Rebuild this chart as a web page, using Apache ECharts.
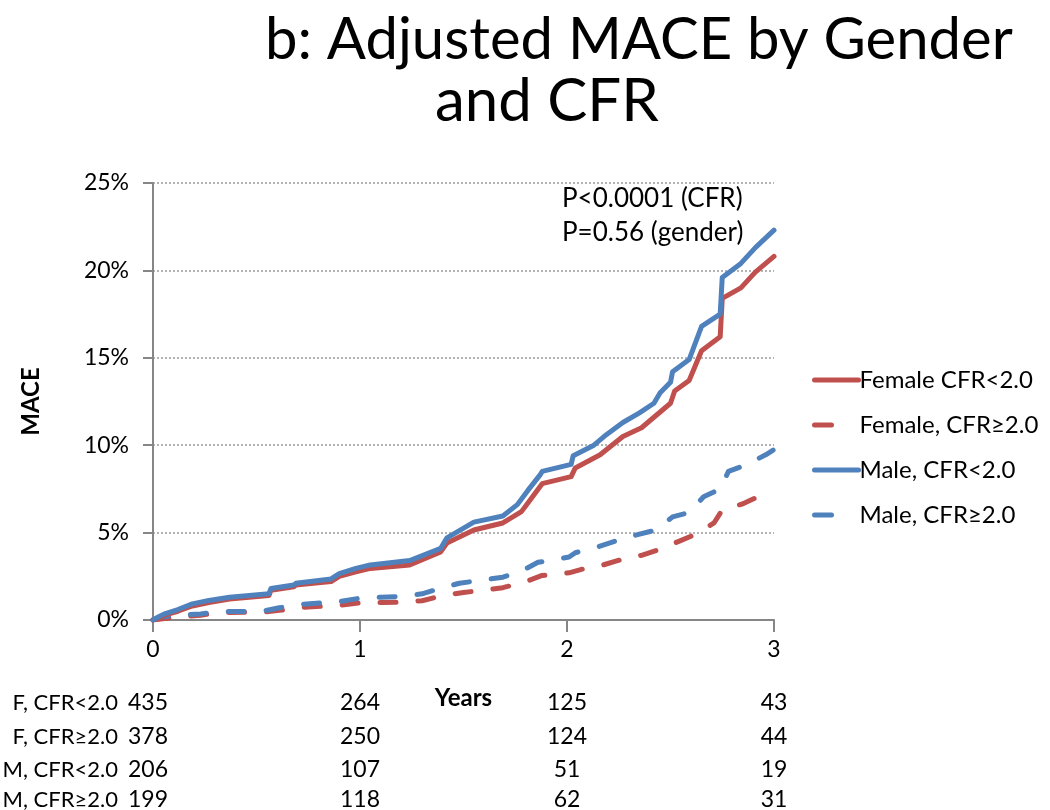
<!DOCTYPE html>
<html>
<head>
<meta charset="utf-8">
<script src="https://cdn.jsdelivr.net/npm/echarts@6/dist/echarts.min.js"></script>
<style>
  html, body { margin: 0; padding: 0; background: #fff; }
  #main { width: 1050px; height: 810px; }
</style>
</head>
<body>
<div id="main"></div>
<script>
// curves: [years, MACE %]
var femaleLow = [[0,0],[0.03,0.1],[0.06,0.3],[0.12,0.5],[0.19,0.8],[0.27,1.0],[0.37,1.2],[0.56,1.4],[0.57,1.7],[0.68,1.9],[0.69,2.0],[0.86,2.2],[0.9,2.5],[0.98,2.75],[1.05,2.95],[1.24,3.15],[1.39,3.9],[1.42,4.4],[1.55,5.15],[1.69,5.55],[1.78,6.2],[1.83,7.0],[1.88,7.8],[2.02,8.2],[2.04,8.7],[2.16,9.45],[2.27,10.5],[2.36,11.0],[2.44,11.8],[2.5,12.4],[2.52,13.1],[2.59,13.7],[2.65,15.4],[2.74,16.2],[2.75,18.4],[2.84,19.0],[2.91,19.9],[3.0,20.8]];
var femaleHigh = [[0,0],[0.1,0.15],[0.23,0.27],[0.32,0.43],[0.53,0.45],[0.61,0.55],[0.72,0.72],[0.91,0.85],[1.01,1.0],[1.11,1.0],[1.21,1.02],[1.3,1.1],[1.4,1.4],[1.5,1.57],[1.69,1.85],[1.79,2.15],[1.88,2.55],[2.01,2.7],[2.07,2.9],[2.16,3.1],[2.26,3.45],[2.36,3.7],[2.45,4.05],[2.54,4.5],[2.63,4.95],[2.71,5.55],[2.75,6.3],[2.85,6.65],[2.94,7.15],[3.0,7.4]];
var maleLow = [[0,0],[0.03,0.2],[0.06,0.37],[0.12,0.6],[0.19,0.92],[0.27,1.12],[0.37,1.3],[0.56,1.5],[0.57,1.8],[0.68,2.0],[0.69,2.1],[0.86,2.35],[0.9,2.65],[0.98,2.95],[1.05,3.15],[1.24,3.4],[1.39,4.1],[1.42,4.7],[1.55,5.6],[1.69,5.95],[1.76,6.6],[1.81,7.4],[1.87,8.3],[1.88,8.5],[2.02,8.9],[2.03,9.4],[2.13,10.0],[2.19,10.6],[2.27,11.3],[2.35,11.85],[2.42,12.4],[2.45,13.0],[2.5,13.6],[2.51,14.2],[2.59,14.9],[2.65,16.8],[2.74,17.5],[2.75,19.6],[2.84,20.4],[2.91,21.3],[3.0,22.3]];
var maleHigh = [[0,0],[0.03,0.15],[0.1,0.25],[0.23,0.35],[0.32,0.48],[0.53,0.5],[0.61,0.7],[0.72,0.9],[0.9,1.05],[1.0,1.25],[1.1,1.3],[1.2,1.35],[1.3,1.5],[1.4,1.85],[1.48,2.1],[1.69,2.45],[1.78,2.8],[1.86,3.3],[2.01,3.6],[2.04,3.85],[2.14,4.15],[2.23,4.5],[2.33,4.85],[2.43,5.15],[2.51,5.9],[2.59,6.15],[2.66,7.05],[2.74,7.5],[2.78,8.5],[2.87,8.9],[2.96,9.45],[3.0,9.75]];

var seriesNames = ['Female CFR<2.0', 'Female, CFR≥2.0', 'Male, CFR<2.0', 'Male, CFR≥2.0'];

// numbers at risk
var riskLabels = ['F, CFR<2.0', 'F, CFR≥2.0', 'M, CFR<2.0', 'M, CFR≥2.0'];
var riskYears = [0, 1, 2, 3];
var riskCounts = [
  [435, 264, 125, 43],
  [378, 250, 124, 44],
  [206, 107, 51, 19],
  [199, 118, 62, 31]
];

var pText = ['P<0.0001 (CFR)', 'P=0.56 (gender)'];

var RED = '#C0504D', BLUE = '#4F81BD';
var FONT = 'Lato';

var chart = echarts.init(document.getElementById('main'));

function lineSeries(name, data, color, dashed) {
  return {
    name: name,
    type: 'line',
    data: data,
    symbol: 'none',
    smooth: false,
    z: dashed ? 2 : 3,
    lineStyle: {
      color: color,
      width: 5,
      type: dashed ? [16, 22] : 'solid',
      cap: 'round',
      join: 'round'
    },
    itemStyle: { color: color }
  };
}

function legendItem(name, dashed) {
  return {
    name: name,
    lineStyle: { width: 5, cap: 'round', type: dashed ? [17, 60] : 'solid' }
  };
}

var option = {
  backgroundColor: '#fff',
  animation: false,
  textStyle: { fontFamily: FONT, color: '#000' },
  grid: { left: 153, right: 276, top: 183, bottom: 190 },
  legend: {
    orient: 'vertical',
    left: 807,
    top: 363,
    itemWidth: 44,
    itemHeight: 8,
    itemGap: 21,
    itemStyle: { color: 'transparent', borderWidth: 0, opacity: 0 },
    data: [
      legendItem(seriesNames[0], false),
      legendItem(seriesNames[1], true),
      legendItem(seriesNames[2], false),
      legendItem(seriesNames[3], true)
    ],
    textStyle: { fontFamily: FONT, fontSize: 24, color: '#000', lineHeight: 24, padding: [0, 0, 0, -4] }
  },
  xAxis: {
    type: 'value',
    min: 0,
    max: 3,
    interval: 1,
    name: 'Years',
    nameLocation: 'middle',
    nameGap: 66,
    nameTextStyle: { fontFamily: FONT, fontSize: 24, fontWeight: 'bold', color: '#000' },
    axisLine: { show: true, lineStyle: { color: '#868686', width: 2 } },
    axisTick: { show: true, length: 12, lineStyle: { color: '#868686', width: 2 } },
    axisLabel: { fontFamily: FONT, fontSize: 23, color: '#000', margin: 18 },
    splitLine: { show: false }
  },
  yAxis: {
    type: 'value',
    min: 0,
    max: 25,
    interval: 5,
    name: 'MACE',
    nameLocation: 'middle',
    nameRotate: 90,
    nameGap: 110,
    nameTextStyle: { fontFamily: FONT, fontSize: 24, fontWeight: 'bold', color: '#000' },
    axisLine: { show: true, lineStyle: { color: '#868686', width: 2 } },
    axisTick: { show: true, length: 10, lineStyle: { color: '#868686', width: 2 } },
    axisLabel: { fontFamily: FONT, fontSize: 23, color: '#000', margin: 24, formatter: '{value}%' },
    splitLine: { show: true, lineStyle: { color: '#9a9a9a', width: 1.5, type: [2, 2] } }
  },
  series: [
    lineSeries(seriesNames[0], femaleLow, RED, false),
    lineSeries(seriesNames[1], femaleHigh, RED, true),
    lineSeries(seriesNames[2], maleLow, BLUE, false),
    lineSeries(seriesNames[3], maleHigh, BLUE, true)
  ]
};
chart.setOption(option);

// title, p-values and the numbers-at-risk table
var g = [];
g.push({ type: 'text', left: 265, top: 11, style: { text: 'b: Adjusted MACE by Gender', fontFamily: FONT, fontSize: 58, fill: '#000' } });
g.push({ type: 'text', left: 435, top: 72, style: { text: 'and CFR', fontFamily: FONT, fontSize: 60, fill: '#000' } });
g.push({ type: 'text', left: 562, top: 186, style: { text: pText[0], fontFamily: FONT, fontSize: 26, fill: '#000' } });
g.push({ type: 'text', left: 562, top: 220, style: { text: pText[1], fontFamily: FONT, fontSize: 26, fill: '#000' } });

var rowY = [703, 737, 770, 800];
for (var i = 0; i < riskLabels.length; i++) {
  g.push({
    type: 'text', x: 118, y: rowY[i],
    style: { text: riskLabels[i], fontFamily: FONT, fontSize: 22, fill: '#000', align: 'right', verticalAlign: 'middle' }
  });
  for (var j = 0; j < riskYears.length; j++) {
    var px = chart.convertToPixel({ xAxisIndex: 0 }, riskYears[j]);
    if (j === 0) px = 148;
    g.push({
      type: 'text', x: px, y: rowY[i],
      style: { text: String(riskCounts[i][j]), fontFamily: FONT, fontSize: 23, fill: '#000', align: 'center', verticalAlign: 'middle' }
    });
  }
}
chart.setOption({ graphic: g });
</script>
</body>
</html>
